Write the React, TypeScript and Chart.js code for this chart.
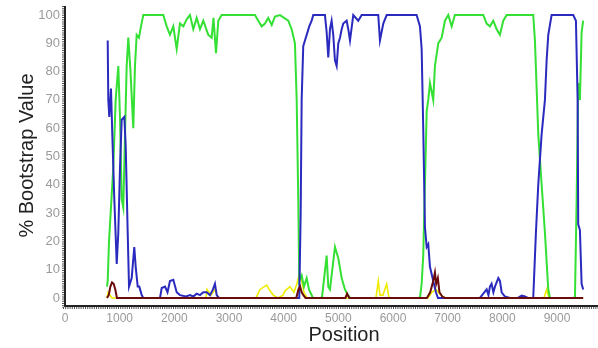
import React, { useEffect, useRef } from 'react';
import { Chart, registerables } from 'chart.js';

Chart.register(...registerables);

const xTickValues = [0, 1000, 2000, 3000, 4000, 5000, 6000, 7000, 8000, 9000];
const yTickValues = [0, 10, 20, 30, 40, 50, 60, 70, 80, 90, 100];

const greenPos = [768, 781, 805, 883, 927, 975, 1006, 1037, 1066, 1128, 1158, 1198, 1249, 1280, 1311, 1353, 1390, 1432, 1798, 1860, 1920, 1981, 2043, 2103, 2164, 2226, 2286, 2347, 2409, 2469, 2530, 2621, 2683, 2716, 2762, 2804, 2866, 3475, 3535, 3598, 3658, 3718, 3781, 3841, 3932, 4084, 4146, 4206, 4238, 4267, 4285, 4329, 4371, 4421, 4463, 4536, 4700, 4786, 4816, 4847, 4938, 4999, 5061, 5121, 5176, 5213, 6493, 6524, 6553, 6584, 6616, 6645, 6676, 6736, 6767, 6828, 6890, 6950, 7011, 7073, 7133, 7651, 7713, 7773, 7834, 7896, 7956, 8017, 8079, 8565, 8596, 8657, 8719, 8779, 8840, 8871, 9328, 9359, 9388, 9419, 9450, 9479];
const greenVal = [4, 6, 20, 46, 70, 82, 64, 35, 32, 82, 92, 80, 60, 82, 93, 92, 96, 100, 100, 96, 93, 96, 88, 97, 96, 98.5, 100, 95, 99, 95, 98, 93, 92, 99, 86.5, 98, 100, 100, 98, 96, 97, 99, 96.5, 99.5, 100, 98, 95, 90, 70, 35, 6, 8, 4, 7, 3, 0, 0, 15, 4, 3, 18, 14, 7, 3, 1, 0, 0, 5, 15, 40, 66, 70, 76, 70, 82, 90, 92, 98, 100, 96, 100, 100, 97, 96, 98, 95, 93, 98, 100, 100, 91, 58, 40, 23, 3, 0, 0, 35, 76, 70, 94, 98];

const bluePos = [781, 792, 810, 841, 865, 902, 946, 975, 1006, 1037, 1085, 1110, 1147, 1171, 1220, 1267, 1293, 1330, 1359, 1403, 1432, 1738, 1769, 1829, 1875, 1920, 1981, 2043, 2103, 2213, 2286, 2347, 2409, 2469, 2530, 2592, 2652, 2707, 2743, 2775, 2817, 4285, 4311, 4329, 4358, 4389, 4421, 4468, 4512, 4541, 4755, 4786, 4816, 4847, 4877, 4907, 4938, 4969, 4999, 5030, 5061, 5090, 5152, 5182, 5213, 5273, 5364, 5427, 5730, 5761, 5822, 5884, 6432, 6493, 6524, 6553, 6584, 6616, 6645, 6676, 6736, 6785, 6822, 7590, 7651, 7713, 7746, 7773, 7803, 7836, 7865, 7926, 7956, 7987, 8048, 8139, 8285, 8353, 8413, 8468, 8565, 8614, 8657, 8719, 8779, 8810, 8840, 8901, 9297, 9346, 9377, 9388, 9419, 9450, 9479];
const blueVal = [91, 70, 64, 74, 58, 35, 12, 23, 46, 63, 64, 54, 23, 4, 7, 18, 11, 4, 4, 1, 0, 0, 3.5, 4, 2, 6, 6.4, 2, 1, 0.5, 1, 0.5, 1.5, 1, 2, 2, 1, 3, 5, 1, 0, 0, 30, 70, 89, 91, 93, 96, 98, 100, 100, 94, 85, 95, 98, 93, 84, 82, 90, 92, 95, 97, 98, 95, 91, 100, 98, 100, 100, 91, 97, 100, 100, 96, 88, 60, 25, 18, 19, 11, 6, 2, 0, 0, 1.5, 3, 1, 4, 5, 2, 4, 7, 6, 2, 0.5, 0, 0, 0.8, 0.5, 0, 0, 23, 40, 58, 70, 84, 93, 100, 100, 98, 70, 26, 24, 5, 3];

const yellowPos = [768, 790, 820, 860, 2579, 2597, 2670, 2743, 2798, 3493, 3567, 3689, 3750, 3810, 3896, 3987, 4024, 4115, 4188, 4243, 4285, 4329, 4371, 4426, 5688, 5730, 5761, 5816, 5884, 5926, 6639, 6712, 6785, 6877, 6950, 8761, 8810, 8852, 9479];
const yellowVal = [0, 2, 1, 0, 0, 3, 1, 3, 0, 0, 3, 4.5, 2.5, 1, 0, 1, 2.5, 4, 2, 5, 8.5, 6, 2, 0, 0, 6, 1, 1, 5, 0, 0, 2, 3, 1, 0, 0, 3, 0, 0];

const maroonPos = [768, 800, 830, 860, 890, 920, 950, 4230, 4270, 4300, 4330, 4360, 4400, 5130, 5160, 5200, 6620, 6680, 6736, 6767, 6790, 6820, 6850, 6900, 6950, 9479];
const maroonVal = [0, 1, 4, 5.5, 5, 3, 0, 0, 3, 4, 2, 1, 0, 0, 1.5, 0, 0, 2, 6, 9, 5, 7, 2, 0.5, 0, 0];

const FONT = "'Liberation Sans', Arial, sans-serif";

const axisDecor = {
  id: 'axisDecor',
  afterDraw(chart: any) {
    const { ctx, chartArea } = chart;
    const { left, right, top, bottom } = chartArea;
    ctx.save();
    ctx.strokeStyle = '#222';
    ctx.lineWidth = 2;
    ctx.beginPath();
    ctx.moveTo(left, top);
    ctx.lineTo(left, bottom + 1);
    ctx.lineTo(right, bottom + 1);
    ctx.stroke();
    ctx.strokeStyle = '#555';
    ctx.lineWidth = 2;
    ctx.setLineDash([1, 1.2]);
    ctx.beginPath();
    ctx.moveTo(left - 2, top);
    ctx.lineTo(left - 2, bottom + 3);
    ctx.moveTo(left - 2, bottom + 3);
    ctx.lineTo(right, bottom + 3);
    ctx.stroke();
    ctx.restore();
  },
};

export default function App() {
  const ref = useRef<HTMLCanvasElement>(null);
  useEffect(() => {
    document.body.style.margin = '0';
    const pts = (p: number[], v: number[]) => p.map((x, i) => ({ x, y: v[i] }));
    const line = (label: string, p: number[], v: number[], color: string, w: number) => ({
      label,
      data: pts(p, v),
      borderColor: color,
      backgroundColor: color,
      borderWidth: w,
      pointRadius: 0,
      tension: 0,
      fill: false,
    });
    const chart = new Chart(ref.current as HTMLCanvasElement, {
      type: 'line',
      data: {
        datasets: [
          line('maroon', maroonPos, maroonVal, '#6a0c0c', 2),
          line('blue', bluePos, blueVal, '#2a2abf', 2),
          line('green', greenPos, greenVal, '#33e033', 2),
          line('yellow', yellowPos, yellowVal, '#f0ec00', 1.6),
        ],
      },
      options: {
        animation: false,
        responsive: false,
        devicePixelRatio: 1,
        layout: { padding: { top: 6, left: 0, right: 0, bottom: 0 } },
        plugins: { legend: { display: false }, tooltip: { enabled: false } },
        scales: {
          x: {
            type: 'linear',
            min: 0,
            max: 10207,
            grid: { display: false, drawTicks: false },
            border: { display: false },
            afterBuildTicks: (s: any) => { s.ticks = xTickValues.map((v) => ({ value: v })); },
            afterFit: (s: any) => { s.height = 43; s.paddingLeft = 0; s.paddingRight = 0; s.paddingTop = 0; s.paddingBottom = 0; },
            ticks: { color: '#9a9a9a', font: { family: FONT, size: 12 }, padding: 6, maxRotation: 0, autoSkip: false, callback: (v: any) => String(v) },
            title: { display: true, text: 'Position', color: '#222', font: { family: FONT, size: 20 }, padding: { top: 0, bottom: 1 } },
          },
          y: {
            type: 'linear',
            min: -2.5,
            max: 103.2,
            grid: { display: false, drawTicks: false },
            border: { display: false },
            afterBuildTicks: (s: any) => { s.ticks = yTickValues.map((v) => ({ value: v })); },
            afterFit: (s: any) => { s.width = 65; s.paddingLeft = 0; s.paddingRight = 0; s.paddingTop = 0; s.paddingBottom = 0; },
            ticks: { color: '#9a9a9a', font: { family: FONT, size: 13 }, padding: 5, autoSkip: false, callback: (v: any) => String(v) },
            title: { display: true, text: '% Bootstrap Value', color: '#222', font: { family: FONT, size: 20 }, padding: { top: 15, bottom: 0 } },
          },
        },
      },
      plugins: [axisDecor],
    });
    return () => chart.destroy();
  }, []);
  return (
    <div style={{ width: 598, height: 348, overflow: 'hidden', background: '#fff' }}>
      <canvas ref={ref} width={623} height={348} style={{ display: 'block' }} />
    </div>
  );
}
